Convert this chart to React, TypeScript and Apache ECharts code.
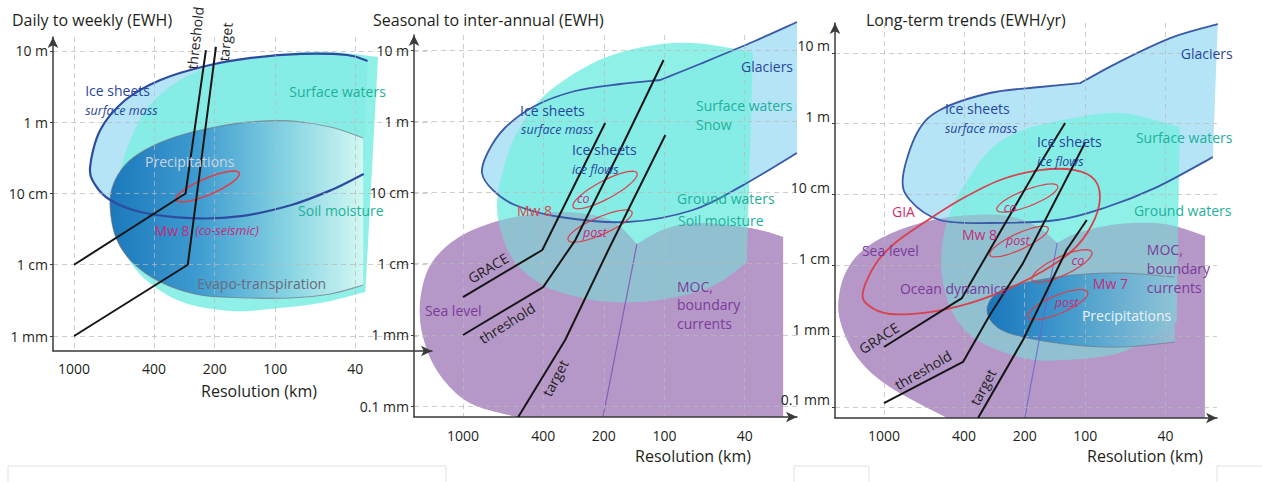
import React, { useEffect, useRef } from "react";
import * as echarts from "echarts";

type Pt = [number, number]; // [resolution km, EWH mm]

const FONT = "'Open Sans', 'Noto Sans', sans-serif";

// ---------- axes ----------
const panelTitles = ["Daily to weekly (EWH)", "Seasonal to inter-annual (EWH)", "Long-term trends (EWH/yr)"];
const xAxisTitle = "Resolution (km)";
const xTickKm = [1000, 400, 200, 100, 40];
const yTickMm = [0.1, 1, 10, 100, 1000, 10000];
const yTickLabels = ["0.1 mm", "1 mm", "1 cm", "10 cm", "1 m", "10 m"];
const xRangeKm: Pt[] = [[1273, 16.6], [1750, 22.0], [1750, 22.2]];
const yRangeMm: Pt[] = [[0.616, 15700], [0.0706, 16250], [0.0695, 26400]];

// ---------- panel 1 : daily to weekly ----------
const p1IceSheets: Pt[][] = [[[36.3, 188], [52.5, 112], [83, 69], [148, 48], [263, 45], [468, 55], [661, 81], [785, 132], [832, 235], [741, 778], [556, 2050], [372, 3920], [221, 6160], [132, 7980], [74, 9080], [44, 8790], [34.7, 7240]]];
const p1SurfaceWaters: Pt[][] = [[[35.6, 4.15], [59.7, 2.9], [106, 2.39], [167, 2.24], [281, 2.9], [409, 5.2], [526, 10.9], [604, 28.8], [625, 81.1], [611, 140], [526, 564], [419, 1746], [297, 3920], [188, 6575], [94.4, 9080], [53.2, 9680], [30.8, 8240]]];
const p1Precipitation: Pt[][] = [[[36.5, 5.2], [53.2, 3.88], [84.1, 3.41], [133, 3.41], [236, 3.76], [373, 5.73], [514, 10.9], [618, 23.7], [662, 64.7], [640, 132], [557, 251], [444, 408], [315, 621], [210, 830], [133, 1009], [84.1, 1042], [53.2, 858], [36.5, 601]]];
const p1CoSeismic: [Pt, Pt] = [[311, 81.1], [151, 194]];
const p1ThresholdKm = [1000, 279, 221];
const p1ThresholdMm = [10, 100, 10300];
const p1TargetKm = [1000, 272, 197];
const p1TargetMm = [1, 10, 11400];

// ---------- panel 2 : seasonal to inter-annual ----------
const p2SeaLevel: Pt[][] = [
  [[540, 0.0706], [923, 0.111], [1300, 0.275], [1563, 0.85], [1635, 2.64], [1493, 8.2], [1200, 17.7], [871, 30.7], [552, 45.3], [312, 53.2], [186, 41], [137, 18.9]],
  [[137, 18.9], [99.5, 30.7], [66.7, 37.3], [37.6, 31.8], [25.8, 23.7]],
  [[25.8, 0.0706]],
];
const p2Divider: Pt[] = [[137, 18.9], [202, 0.0706]];
const p2IceGlaciers: Pt[][] = [
  [[22, 358], [40.7, 127], [72.3, 56.8], [153, 38.5], [330, 45.3], [552, 66.8], [710, 108], [805, 188], [751, 370], [620, 804], [440, 1637], [278, 2660], [166, 3335], [105, 3795]],
  [[105, 3795], [66.7, 6365], [37.6, 12530], [22, 24700]],
];
const p2SurfaceWaters: Pt[][] = [[[39, 10.6], [53.1, 5.5], [72.3, 3.9], [118, 3.0], [186, 2.9], [278, 3.5], [401, 5.0], [552, 10.6], [640, 25.3], [678, 66.8], [632, 207], [540, 684], [392, 2335], [226, 6575], [128, 11000], [72.3, 12530], [36.4, 9370]]];
const p2Co: [Pt, Pt] = [[284, 62.6], [137, 188]];
const p2Post: [Pt, Pt] = [[301, 21.5], [145, 53.2]];
const p2GraceKm = [1000, 404, 197];
const p2GraceMm = [3.4, 15.6, 945];
const p2ThresholdKm = [1000, 400, 277, 166, 101];
const p2ThresholdMm = [1, 4.7, 21.5, 395, 7240];
const p2TargetKm = [532, 311, 190, 99];
const p2TargetMm = [0.0706, 0.85, 15.6, 641];

// ---------- panel 3 : long-term trends ----------
const p3SeaLevel: Pt[][] = [
  [[486, 0.0695], [933, 0.19], [1361, 0.505], [1652, 1.68], [1652, 4.47], [1475, 10.1], [1173, 19.3], [787, 33.5], [470, 48], [265, 51.2], [178, 37], [138, 20.6]],
  [[138, 20.6], [106, 29.4], [67.5, 38.2], [40.3, 38.2], [25.5, 25.9]],
  [[25.5, 0.0695]],
];
const p3Divider: Pt[] = [[138, 20.6], [200, 0.0695]];
const p3IceGlaciers: Pt[][] = [
  [[23.3, 337], [44.1, 127], [78.2, 66.4], [138, 43.5], [298, 39.5], [527, 43.5], [743, 83.4], [805, 176], [685, 737], [527, 1556], [298, 2705], [168, 3290], [106, 3740]],
  [[106, 3740], [65.2, 7910], [36.8, 16700], [22, 25500]],
];
const p3SurfaceWaters: Pt[][] = [[[35.2, 1.58], [65.2, 0.594], [129, 0.458], [204, 0.489], [345, 0.88], [455, 2.11], [516, 7.27], [510, 22.7], [470, 54.6], [405, 127], [298, 424], [204, 812], [115, 1200], [65.2, 1413], [34, 895]]];
const p3Precipitation: Pt[][] = [[[36, 0.82], [65.2, 0.7], [115, 0.746], [204, 0.97], [275, 1.34], [308, 2.33], [275, 4.05], [204, 5.6], [115, 7.27], [65.2, 7.76], [36, 6.8]]];
const p3Gia: Pt[] = [[1271, 4.18], [1109, 10.1], [881, 20.6], [627, 40.7], [420, 83.4], [265, 160], [168, 221], [113, 221], [89.8, 160], [84.8, 83.4], [92.9, 37], [115, 16.4], [159, 8.55], [237, 4.76], [374, 2.92], [592, 2.18], [933, 2.05], [1200, 2.74]];
const p3Co8: [Pt, Pt] = [[275, 60.2], [137, 131]];
const p3Post8: [Pt, Pt] = [[298, 13.9], [153, 33.5]];
const p3Co7: [Pt, Pt] = [[184, 6.18], [92.9, 15.4]];
const p3Post7: [Pt, Pt] = [[193, 1.85], [97.3, 4.18]];
const p3GraceKm = [1000, 410, 265, 178, 126];
const p3GraceMm = [0.7, 3.44, 29.4, 207, 1020];
const p3ThresholdKm = [1000, 405, 298, 204, 100.5];
const p3ThresholdMm = [0.113, 0.43, 1.98, 10.7, 532];
const p3TargetKm = [341, 204, 124, 98.4];
const p3TargetMm = [0.0695, 0.88, 16.4, 43.5];

// ---------- labels: [text, km, mm, kind, rotation°] ----------
type Lbl = [string, number, number, string, number?];
const p1Labels: Lbl[] = [
  ["Ice sheets", 881, 2745, "ice"],
  ["surface mass", 881, 1438, "iceSub"],
  ["Surface waters", 85.1, 2660, "water"],
  ["Precipitations", 444, 277, "precipP1"],
  ["Soil moisture", 76.9, 56.8, "water"],
  ["Mw 8", 398, 29.8, "quake"],
  ["(co-seismic)", 250, 29.8, "quakeSub"],
  ["Evapo-transpiration", 244, 5.37, "evapo"],
  ["threshold", 250, 15200, "line", 84],
  ["target", 177, 13400, "line", 84],
];
const p2Labels: Lbl[] = [
  ["Glaciers", 41.7, 5960, "ice"],
  ["Ice sheets", 521, 1438, "ice"],
  ["surface mass", 515, 778, "iceSub"],
  ["Ice sheets", 288, 408, "ice"],
  ["ice flows", 288, 207, "iceSub"],
  ["Surface waters", 69.8, 1690, "water"],
  ["Snow", 69.8, 915, "water"],
  ["Ground waters", 86.7, 81.1, "water"],
  ["Soil moisture", 85.7, 41.1, "water"],
  ["Mw 8", 540, 56.8, "quakeRed"],
  ["co", 272, 83.7, "quakeSub"],
  ["post", 254, 27.9, "quakeSub"],
  ["GRACE", 751, 8.71, "line", 31],
  ["Sea level", 1545, 2.24, "sea"],
  ["threshold", 605, 1.47, "line", 32],
  ["target", 349, 0.249, "line", 62],
  ["MOC,", 86.7, 4.72, "sea"],
  ["boundary", 86.7, 2.64, "sea"],
  ["currents", 86.7, 1.43, "sea"],
];
const p3Labels: Lbl[] = [
  ["Glaciers", 33.6, 9930, "ice"],
  ["Ice sheets", 498, 1660, "ice"],
  ["surface mass", 498, 867, "iceSub"],
  ["Ice sheets", 174, 568, "ice"],
  ["ice flows", 174, 296, "iceSub"],
  ["Surface waters", 56.1, 647, "water"],
  ["Ground waters", 57.4, 60.2, "water"],
  ["GIA", 912, 58.3, "gia"],
  ["co", 254, 66.4, "quakeSub"],
  ["Mw 8", 410, 27.6, "quake"],
  ["post", 248, 22.7, "quakeSub"],
  ["Sea level", 1286, 15.9, "sea"],
  ["MOC,", 49.5, 16.9, "sea"],
  ["boundary", 49.5, 9.13, "sea"],
  ["currents", 49.5, 4.92, "sea"],
  ["co", 117, 11.8, "quakeSub"],
  ["Mw 7", 91.8, 5.6, "quake"],
  ["Ocean dynamics", 833, 4.76, "sea"],
  ["post", 142, 3.02, "quakeSub"],
  ["Precipitations", 104, 1.92, "precipP3"],
  ["GRACE", 1059, 0.937, "line", 33],
  ["threshold", 640, 0.331, "line", 30],
  ["target", 323, 0.19, "line", 62],
];

// ---------- styles & layout ----------
const labelStyle: Record<string, { c: string; s: number; i?: boolean }> = {
  ice: { c: "#2a469c", s: 14 },
  iceSub: { c: "#2a469c", s: 12.5, i: true },
  water: { c: "#1fb09a", s: 14 },
  sea: { c: "#7b3b9a", s: 14 },
  quake: { c: "#c42a7c", s: 14 },
  quakeRed: { c: "#d4464e", s: 14 },
  quakeSub: { c: "#c42a7c", s: 12.5, i: true },
  gia: { c: "#cc2f6a", s: 14 },
  precipP1: { c: "#cdd5e2", s: 14 },
  precipP3: { c: "#e8f3f8", s: 14 },
  evapo: { c: "#676b7d", s: 14 },
  line: { c: "#1e1e1e", s: 14 },
};
const C = {
  ice: "rgba(160,220,245,0.78)",
  iceLine: "#2d4b9f",
  cyan: "rgba(128,238,228,0.88)",
  purpleBase: "rgb(210,142,210)",
  purpleOver: "rgba(152,160,190,0.5)",
  red: "#d8414d",
  line: "#161616",
};
const gridLayout = [
  { left: 53, top: 37, width: 379, height: 314 },
  { left: 414, top: 35, width: 383, height: 382 },
  { left: 835, top: 23, width: 382, height: 395 },
];
const titlePos = [[12, 20], [373, 20], [866, 20]];
const xNamePos = [[259, 391], [693, 456], [1145, 456]];
const xLabelMargin = [10, 11, 10];

const lg = Math.log10;
const toData = (p: Pt) => [-lg(p[0]), lg(p[1])];
const f = (p: number[]) => p[0].toFixed(1) + " " + p[1].toFixed(1);

function crSeg(pts: number[][], start: string): string {
  let d = start + f(pts[0]);
  const n = pts.length;
  for (let i = 0; i < n - 1; i++) {
    const p0 = pts[i > 0 ? i - 1 : 0];
    const p1 = pts[i];
    const p2 = pts[i + 1];
    const p3 = pts[i + 2 < n ? i + 2 : n - 1];
    const c1 = [p1[0] + (p2[0] - p0[0]) / 6, p1[1] + (p2[1] - p0[1]) / 6];
    const c2 = [p2[0] - (p3[0] - p1[0]) / 6, p2[1] - (p3[1] - p1[1]) / 6];
    d += " C" + f(c1) + " " + f(c2) + " " + f(p2);
  }
  return d;
}
function crClosed(pts: number[][]): string {
  const n = pts.length;
  let d = "M" + f(pts[0]);
  for (let i = 0; i < n; i++) {
    const p0 = pts[(i - 1 + n) % n];
    const p1 = pts[i];
    const p2 = pts[(i + 1) % n];
    const p3 = pts[(i + 2) % n];
    const c1 = [p1[0] + (p2[0] - p0[0]) / 6, p1[1] + (p2[1] - p0[1]) / 6];
    const c2 = [p2[0] - (p3[0] - p1[0]) / 6, p2[1] - (p3[1] - p1[1]) / 6];
    d += " C" + f(c1) + " " + f(c2) + " " + f(p2);
  }
  return d + " Z";
}
function ellipsePath(a: number[], b: number[], r: number): string {
  const cx = (a[0] + b[0]) / 2, cy = (a[1] + b[1]) / 2;
  const ux = (b[0] - a[0]) / 2, uy = (b[1] - a[1]) / 2;
  const nx = -uy * r, ny = ux * r;
  let d = "";
  for (let k = 0; k <= 48; k++) {
    const t = (k / 48) * Math.PI * 2;
    const x = cx + ux * Math.cos(t) + nx * Math.sin(t);
    const y = cy + uy * Math.cos(t) + ny * Math.sin(t);
    d += (k === 0 ? "M" : " L") + x.toFixed(1) + " " + y.toFixed(1);
  }
  return d + " Z";
}

interface Layer {
  segs?: Pt[][];
  ring?: Pt[];
  ell?: [Pt, Pt, number];
  straight?: Pt[];
  fill?: any;
  stroke?: string;
  lw?: number;
  strokeOnly?: boolean;
}

const grad = (stops: [number, string][]) =>
  new echarts.graphic.LinearGradient(0, 0, 1, 0, stops.map(([offset, color]) => ({ offset, color })));

const shapeLayers: Layer[][] = [
  [
    { segs: p1IceSheets, fill: C.ice },
    { segs: p1SurfaceWaters, fill: C.cyan },
    { segs: p1Precipitation, fill: grad([[0, "#1b78bc"], [0.35, "#3f9cd0"], [0.7, "#86d3e2"], [1, "#d2f8f3"]]), stroke: "rgba(110,110,125,0.65)", lw: 1.1 },
    { segs: p1IceSheets, stroke: C.iceLine, lw: 2.2, strokeOnly: true },
  ],
  [
    { segs: p2SeaLevel, fill: C.purpleBase },
    { segs: p2IceGlaciers, fill: C.ice },
    { segs: p2SurfaceWaters, fill: C.cyan },
    { segs: p2SeaLevel, fill: C.purpleOver },
    { straight: p2Divider, stroke: "rgba(130,80,180,0.85)", lw: 1.2 },
    { segs: p2IceGlaciers, stroke: "#3a59a8", lw: 1.8, strokeOnly: true },
  ],
  [
    { segs: p3SeaLevel, fill: C.purpleBase },
    { segs: p3IceGlaciers, fill: C.ice },
    { segs: p3SurfaceWaters, fill: C.cyan },
    { segs: p3SeaLevel, fill: C.purpleOver },
    { segs: p3Precipitation, fill: grad([[0, "#1a76bb"], [0.4, "#3f98cc"], [1, "rgba(140,195,215,0.85)"]]), stroke: "rgba(110,110,125,0.6)", lw: 1 },
    { straight: p3Divider, stroke: "rgba(100,100,210,0.85)", lw: 1.1 },
    { segs: p3IceGlaciers, stroke: "#3a59a8", lw: 1.8, strokeOnly: true },
  ],
];
const ellipseLayers: Layer[][] = [
  [{ ell: [p1CoSeismic[0], p1CoSeismic[1], 0.24], stroke: C.red, lw: 1.6 }],
  [
    { ell: [p2Co[0], p2Co[1], 0.25], stroke: C.red, lw: 1.2 },
    { ell: [p2Post[0], p2Post[1], 0.25], stroke: C.red, lw: 1.2 },
  ],
  [
    { ring: p3Gia, stroke: C.red, lw: 1.8 },
    { ell: [p3Co8[0], p3Co8[1], 0.25], stroke: C.red, lw: 1.2 },
    { ell: [p3Post8[0], p3Post8[1], 0.25], stroke: C.red, lw: 1.2 },
    { ell: [p3Co7[0], p3Co7[1], 0.28], stroke: C.red, lw: 1.2 },
    { ell: [p3Post7[0], p3Post7[1], 0.28], stroke: C.red, lw: 1.2 },
  ],
];
const panelLines: { km: number[]; mm: number[] }[][] = [
  [{ km: p1ThresholdKm, mm: p1ThresholdMm }, { km: p1TargetKm, mm: p1TargetMm }],
  [{ km: p2GraceKm, mm: p2GraceMm }, { km: p2ThresholdKm, mm: p2ThresholdMm }, { km: p2TargetKm, mm: p2TargetMm }],
  [{ km: p3GraceKm, mm: p3GraceMm }, { km: p3ThresholdKm, mm: p3ThresholdMm }, { km: p3TargetKm, mm: p3TargetMm }],
];
const panelLabels = [p1Labels, p2Labels, p3Labels];

function renderLayer(L: Layer, api: any) {
  const px = (p: Pt) => api.coord(toData(p)) as number[];
  if (L.ell) {
    return { type: "path", shape: { pathData: ellipsePath(px(L.ell[0]), px(L.ell[1]), L.ell[2]) }, style: { fill: "none", stroke: L.stroke, lineWidth: L.lw } };
  }
  if (L.ring) {
    return { type: "path", shape: { pathData: crClosed(L.ring.map(px)) }, style: { fill: "none", stroke: L.stroke, lineWidth: L.lw } };
  }
  if (L.straight) {
    const pts = L.straight.map(px);
    return { type: "path", shape: { pathData: pts.map((p, i) => (i ? "L" : "M") + f(p)).join(" ") }, style: { fill: "none", stroke: L.stroke, lineWidth: L.lw } };
  }
  const segs = (L.segs || []).map((s) => s.map(px));
  const open = segs.map((s, i) => crSeg(s, i === 0 ? "M" : "L")).join(" ");
  const children: any[] = [];
  if (!L.strokeOnly && L.fill) {
    children.push({ type: "path", shape: { pathData: open + " Z" }, style: { fill: L.fill, stroke: "none" } });
  }
  if (L.stroke) {
    children.push({ type: "path", shape: { pathData: open }, style: { fill: "none", stroke: L.stroke, lineWidth: L.lw } });
  }
  return { type: "group", children };
}

function buildOption(): any {
  const xVals = xTickKm.map((k) => -lg(k));
  const fmtX = (v: number) => {
    const k = xTickKm.find((t) => Math.abs(-lg(t) - v) < 1e-6);
    return k === undefined ? "" : String(k);
  };
  const fmtY = (v: number) => {
    const j = yTickMm.findIndex((t) => Math.abs(lg(t) - v) < 1e-6);
    return j < 0 ? "" : yTickLabels[j];
  };
  const axisLineStyle = { color: "#3a3a3a", width: 1.5 };
  const split = { show: true, lineStyle: { color: "rgba(185,185,185,0.7)", type: [5, 4], width: 1 } };

  const xAxis = [0, 1, 2].map((i) => ({
    gridIndex: i,
    type: "value",
    min: -lg(xRangeKm[i][0]),
    max: -lg(xRangeKm[i][1]),
    z: 1.5,
    axisLine: { show: true, onZero: false, symbol: ["none", "arrow"], symbolSize: [8, 11], lineStyle: axisLineStyle },
    axisTick: { show: false, customValues: xVals },
    axisLabel: { customValues: xVals, formatter: fmtX, color: "#231f20", fontSize: 14, fontFamily: FONT, margin: xLabelMargin[i] },
    splitLine: split,
  }));
  const yAxis = [0, 1, 2].map((i) => {
    const lo = yRangeMm[i][0], hi = yRangeMm[i][1];
    const yVals = yTickMm.filter((t) => t >= lo && t <= hi).map((t) => lg(t));
    return {
      gridIndex: i,
      type: "value",
      min: lg(lo),
      max: lg(hi),
      z: 1.5,
      axisLine: { show: true, onZero: false, symbol: ["none", "arrow"], symbolSize: [8, 11], lineStyle: axisLineStyle },
      axisTick: { show: true, length: 3, customValues: yVals, lineStyle: { color: "#3a3a3a" } },
      axisLabel: {
        customValues: yVals,
        formatter: fmtY,
        color: "#231f20",
        fontSize: 14,
        fontFamily: FONT,
        margin: 5,
        verticalAlign: i === 2 ? "bottom" : "middle",
      },
      splitLine: split,
    };
  });

  const series: any[] = [];
  [0, 1, 2].forEach((i) => {
    series.push({
      type: "custom",
      xAxisIndex: i,
      yAxisIndex: i,
      z: 1,
      silent: true,
      clip: false,
      data: shapeLayers[i].map((_, k) => [k]),
      renderItem: (params: any, api: any) => renderLayer(shapeLayers[i][params.dataIndex], api),
    });
    series.push({
      type: "custom",
      xAxisIndex: i,
      yAxisIndex: i,
      z: 2,
      silent: true,
      clip: false,
      data: ellipseLayers[i].map((_, k) => [k]),
      renderItem: (params: any, api: any) => renderLayer(ellipseLayers[i][params.dataIndex], api),
    });
    panelLines[i].forEach((ln) => {
      series.push({
        type: "line",
        xAxisIndex: i,
        yAxisIndex: i,
        z: 3,
        silent: true,
        clip: false,
        symbol: "none",
        showSymbol: false,
        lineStyle: { color: C.line, width: 2 },
        data: ln.km.map((k, j) => [-lg(k), lg(ln.mm[j])]),
      });
    });
    series.push({
      type: "custom",
      xAxisIndex: i,
      yAxisIndex: i,
      z: 4,
      silent: true,
      clip: false,
      data: panelLabels[i].map((_, k) => [k]),
      renderItem: (params: any, api: any) => {
        const L = panelLabels[i][params.dataIndex];
        const st = labelStyle[L[3]];
        const p = api.coord([-lg(L[1]), lg(L[2])]);
        const rot = L[4] || 0;
        return {
          type: "text",
          x: p[0],
          y: p[1],
          rotation: (rot * Math.PI) / 180,
          style: {
            text: L[0],
            fill: st.c,
            fontSize: st.s,
            fontFamily: FONT,
            fontStyle: st.i ? "italic" : "normal",
            align: rot ? "center" : "left",
            verticalAlign: "middle",
          },
        };
      },
    });
  });

  const graphic: any[] = [];
  panelTitles.forEach((t, i) => {
    graphic.push({ type: "text", x: titlePos[i][0], y: titlePos[i][1], z: 10, style: { text: t, fontSize: 16, fontFamily: FONT, fill: "#231f20", verticalAlign: "middle", align: "left" } });
    graphic.push({ type: "text", x: xNamePos[i][0], y: xNamePos[i][1], z: 10, style: { text: xAxisTitle, fontSize: 16, fontFamily: FONT, fill: "#231f20", verticalAlign: "middle", align: "center" } });
  });
  const deco = [
    [[8, 482], [8, 466], [446, 466], [446, 482]],
    [[794, 482], [794, 466], [869, 466], [869, 482]],
    [[1217, 482], [1217, 466], [1262, 466]],
  ];
  deco.forEach((pts) => graphic.push({ type: "polyline", z: 10, shape: { points: pts }, style: { stroke: "#e2e2e2", fill: "none", lineWidth: 1 } }));

  return {
    animation: false,
    backgroundColor: "#ffffff",
    grid: gridLayout.map((g) => ({ ...g, containLabel: false })),
    xAxis,
    yAxis,
    series,
    graphic,
  };
}

export default function App() {
  const ref = useRef<HTMLDivElement>(null);
  useEffect(() => {
    if (!ref.current) return;
    const chart = echarts.init(ref.current, undefined, { renderer: "svg" });
    chart.setOption(buildOption());
    return () => chart.dispose();
  }, []);
  return <div ref={ref} style={{ position: "fixed", left: 0, top: 0, width: 1262, height: 482, background: "#fff" }} />;
}
